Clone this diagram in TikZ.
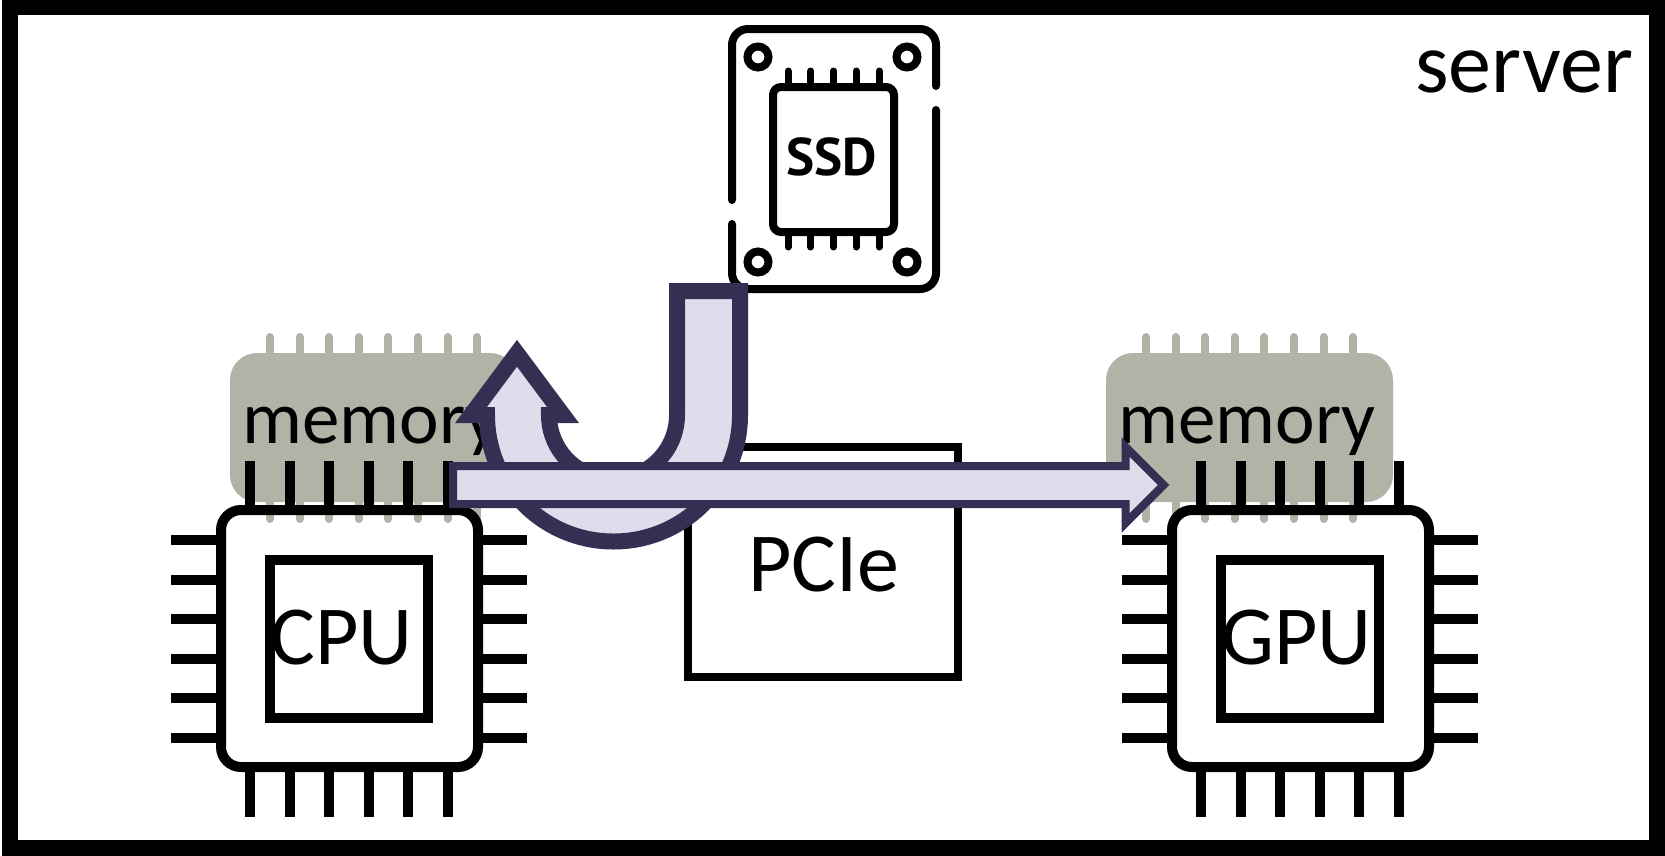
\documentclass[tikz,border=0pt]{standalone}
\usepackage{fontspec}
\setmainfont{Carlito}
\newfontfamily\ssdfont{PT Sans}
\definecolor{arrowdark}{RGB}{55,47,83}
\definecolor{arrowlight}{RGB}{223,221,236}
\definecolor{memgray}{RGB}{177,179,166}
\tikzset{
  frameline/.style={draw=black,line width=16pt,miter limit=10},
  chipline/.style={draw=black,line width=10pt},
  pciebox/.style={draw=black,line width=8pt},
  memoryPin/.style={draw=memgray,line width=8pt,line cap=round},
  ssdline/.style={draw=black,line width=8pt,line cap=round},
  ssdpin/.style={draw=black,line width=7pt,line cap=round},
  bigtext/.style={inner sep=0pt,outer sep=0pt,anchor=base,text=black,font=\fontsize{84}{90}\selectfont},
  servertext/.style={inner sep=0pt,outer sep=0pt,anchor=base,text=black,font=\fontsize{86}{90}\selectfont},
  memtext/.style={inner sep=0pt,outer sep=0pt,anchor=base,text=black,font=\fontsize{75}{80}\selectfont},
  blockarrow/.style={draw=arrowdark,fill=arrowlight,miter limit=10,line join=miter},
}
\begin{document}
\begin{tikzpicture}[x=1pt,y=-1pt]
\useasboundingbox (0,0) rectangle (1665,855);
\fill[white] (0,0) rectangle (1665,857);
\draw[frameline] (9.5,7) rectangle (1657,848);
\node[servertext] (server) at (1524,92) {server};
% memory modules
\foreach \mx in {0,876}{
  \begin{scope}[xshift=\mx pt]
    \foreach \p in {270,299.5,329,358.7,388.3,418,447.5,477}
      \draw[memoryPin] (\p,337) -- (\p,519);
    \fill[memgray] (230,353) [rounded corners=27pt] rectangle (517,502);
  \end{scope}
}
% chips
\foreach \cx/\lab/\tx in {0/CPU/341.5,951/GPU/345.5}{
  \begin{scope}[xshift=\cx pt]
    \draw[chipline,rounded corners=20pt] (221,510) rectangle (478,767);
    \draw[chipline] (270,560) rectangle (428,718);
    \foreach \p in {250,289.6,329.2,368.8,408.4,448}{
      \draw[chipline] (\p,461) -- (\p,505);
      \draw[chipline] (\p,772) -- (\p,817);
    }
    \foreach \p in {540,579.5,619,658.7,698,737.7}{
      \draw[chipline] (171,\p) -- (216,\p);
      \draw[chipline] (483,\p) -- (527,\p);
    }
    \node[bigtext] (lab\lab) at (\tx,664) {\lab};
  \end{scope}
}
\node[memtext] (memA) at (371,443) {memory};
\node[memtext] (memB) at (1247,443) {memory};
% PCIe
\draw[pciebox] (688,447) rectangle (958,677);
\node[bigtext] (pcie) at (824,591) {PCIe};
% SSD
\draw[ssdline,rounded corners=16pt] (936,86) -- (936,29) -- (732,29) -- (732,200);
\draw[ssdline,rounded corners=16pt] (732,224) -- (732,289) -- (936,289) -- (936,110);
\foreach \a in {758,907}\foreach \b in {57,262}
  \draw[black,line width=8pt] (\a,\b) circle (10.5pt);
\foreach \p in {788,810.7,833.5,856,879}{
  \draw[ssdpin] (\p,71) -- (\p,87);
  \draw[ssdpin] (\p,232) -- (\p,247);
}
\draw[black,line width=8pt,rounded corners=8pt] (773,87) rectangle (894,232);
\node[inner sep=0pt,anchor=base] (ssd) at (832,175) {\fontsize{53}{60}\ssdfont\bfseries SSD};
% arrows
\draw[blockarrow,line width=16pt] (677,291) -- (740,291) -- (740,415)
  .. controls (740,484.9) and (683.4,541.5) .. (613.5,541.5)
  .. controls (543.6,541.5) and (487,484.9) .. (487,415)
  -- (471,415) -- (517,353.3) -- (563,415) -- (549,415)
  .. controls (549,450.3) and (577.7,479) .. (613,479)
  .. controls (648.3,479) and (677,450.3) .. (677,415) -- cycle;
\draw[blockarrow,line width=8pt] (453,466) -- (1125.6,466) -- (1125.6,447) -- (1163.6,485)
  -- (1125.6,523) -- (1125.6,504) -- (453,504) -- cycle;
\end{tikzpicture}
\end{document}
